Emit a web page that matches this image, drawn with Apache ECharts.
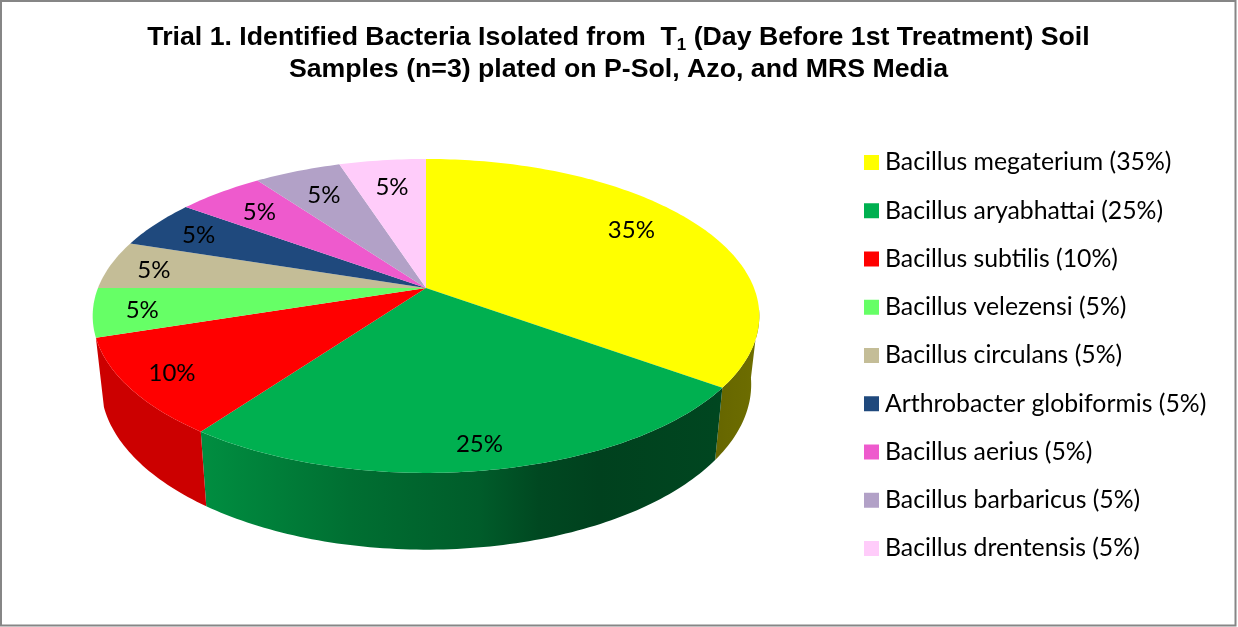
<!DOCTYPE html>
<html>
<head>
<meta charset="utf-8">
<style>
  html, body { margin: 0; padding: 0; background: #fff; }
  #chart { width: 1238px; height: 627px; }
</style>
<script src="https://cdn.jsdelivr.net/npm/echarts@6/dist/echarts.min.js"></script>
</head>
<body>
<div id="chart"></div>
<script>
// Bacterial species and their share of the isolates, in percent
const speciesNames = [
  'Bacillus megaterium', 'Bacillus aryabhattai', 'Bacillus subtilis',
  'Bacillus velezensi', 'Bacillus circulans', 'Arthrobacter globiformis',
  'Bacillus aerius', 'Bacillus barbaricus', 'Bacillus drentensis'
];
const shares = [35, 25, 10, 5, 5, 5, 5, 5, 5];
const sliceColors = [
  [255, 255, 0], [0, 176, 80], [255, 0, 0],
  [102, 255, 102], [196, 189, 151], [31, 73, 125],
  [238, 90, 205], [178, 161, 199], [255, 204, 250]
];
// Radial reach of each value label and its upward nudge
const labelReach = [0.745, 0.88, 0.87, 0.855, 0.86, 0.83, 0.79, 0.77, 0.75];
const labelLift = [9, 0, 0, -1, -2, -1, -1, 0, 1];

const legendNames = speciesNames.map((n, i) => `${n} (${shares[i]}%)`);
const total = shares.reduce((a, b) => a + b, 0);
const startShare = shares.map((_, i) => shares.slice(0, i).reduce((a, b) => a + b, 0));

// Perspective view of the disc: persp is the foreshortening strength
const persp = 0.178;
const topFace = { cx: 426, cy: 288, rx: 328, ry: 152 };
const baseFace = { cx: 426, cy: 355, rx: 320, ry: 160 };
// Range of angles where the outer wall faces the viewer
const wallFromDeg = 98;
const wallToDeg = 252;

// Angle in degrees clockwise from 12 o'clock, radius as a fraction of the rim
function project(face, deg, r) {
  const a = deg * Math.PI / 180;
  const u = r * Math.sin(a), v = -r * Math.cos(a);
  const w = 1 - persp * v;
  return [face.cx + face.rx * u / w, face.cy + face.ry * v / w];
}
function arc(face, from, to) {
  const pts = [];
  const n = Math.max(2, Math.ceil(Math.abs(to - from)));
  for (let i = 0; i <= n; i++) pts.push(project(face, from + (to - from) * i / n, 1));
  return pts;
}
const sliceFrom = i => startShare[i] / total * 360;
const sliceTo = i => (startShare[i] + shares[i]) / total * 360;
const rgb = c => `rgb(${c.map(Math.round).join(',')})`;

// Side-wall lighting across the disc width, as a fraction of the slice colour
const wallLight = [
  [0, 0.8], [0.17, 0.8], [0.385, 0.63], [0.58, 0.52],
  [0.67, 0.41], [0.76, 0.37], [0.935, 0.4], [1, 0.43]
];
function wallFill(color) {
  return {
    type: 'linear', global: true, x: 93, y: 0, x2: 759, y2: 0,
    colorStops: wallLight.map(([offset, f]) => ({ offset, color: rgb(color.map(c => c * f)) }))
  };
}

function renderWall(params) {
  const i = params.dataIndex;
  const from = Math.max(sliceFrom(i), wallFromDeg), to = Math.min(sliceTo(i), wallToDeg);
  if (from >= to) return { type: 'group', children: [] };
  const points = arc(topFace, from, to).concat(arc(baseFace, to, from));
  return { type: 'polygon', shape: { points }, style: { fill: wallFill(sliceColors[i]) } };
}

function renderTop(i) {
  return function (params, api) {
    const from = sliceFrom(i), to = sliceTo(i), mid = (from + to) / 2;
    const points = [project(topFace, 0, 0)].concat(arc(topFace, from, to));
    const at = project(topFace, mid, labelReach[i]);
    return {
      type: 'group',
      children: [
        { type: 'polygon', shape: { points }, style: { fill: rgb(sliceColors[i]) } },
        {
          type: 'text',
          style: {
            x: at[0], y: at[1] - labelLift[i],
            text: api.value(0) + '%',
            fontFamily: 'Lato', fontSize: 24, fill: '#000',
            align: 'center', verticalAlign: 'middle'
          }
        }
      ]
    };
  };
}

const series = [{
  type: 'custom', name: 'wall', coordinateSystem: 'none', z: 1,
  silent: true, renderItem: renderWall, data: shares
}].concat(speciesNames.map((_, i) => ({
  type: 'custom', name: legendNames[i], coordinateSystem: 'none', z: 2,
  silent: true, renderItem: renderTop(i), data: [shares[i]],
  itemStyle: { color: rgb(sliceColors[i]) }
})));

const chart = echarts.init(document.getElementById('chart'), null, { renderer: 'canvas' });
chart.setOption({
  animation: false,
  backgroundColor: '#fff',
  title: {
    left: 613.5, top: 17, textAlign: 'center',
    text: '{t|Trial 1. Identified Bacteria Isolated from  T}{s|1}{t| (Day Before 1st Treatment) Soil}\n' +
          '{t|Samples (n=3) plated on P-Sol, Azo, and MRS Media}',
    textStyle: {
      rich: {
        t: { fontFamily: 'Liberation Sans', fontWeight: 'bold', fontSize: 26.7, lineHeight: 32, color: '#000' },
        s: { fontFamily: 'Liberation Sans', fontWeight: 'bold', fontSize: 17, lineHeight: 32, color: '#000', verticalAlign: 'bottom', padding: [10, 0, 0, 0] }
      }
    }
  },
  legend: {
    orient: 'vertical', left: 859, top: 145,
    data: legendNames, icon: 'rect', itemWidth: 15, itemHeight: 15,
    itemGap: 23.25, selectedMode: false,
    textStyle: { fontFamily: 'Lato', fontSize: 24.8, color: '#000', padding: [0, 0, 0, 1] }
  },
  graphic: [{
    type: 'rect', silent: true, z: 10,
    shape: { x: 1, y: 1, width: 1234.5, height: 624.5 },
    style: { fill: 'none', stroke: '#868686', lineWidth: 2 }
  }],
  series
});
</script>
</body>
</html>
